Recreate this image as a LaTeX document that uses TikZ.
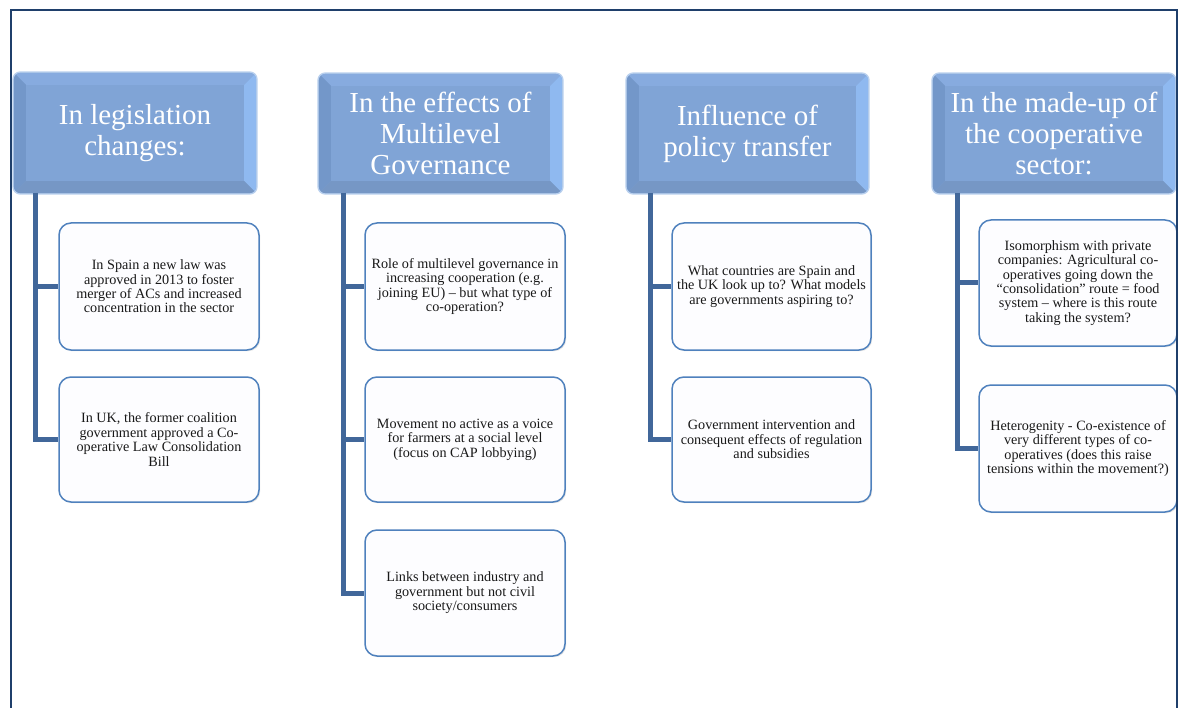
\documentclass[tikz,border=0pt]{standalone}
\usepackage{fontspec}
\setmainfont{Liberation Serif}
\usetikzlibrary{backgrounds,shadows}
\definecolor{hdrbase}{RGB}{128,164,214}
\definecolor{hdrtop}{RGB}{135,171,223}
\definecolor{hdrright}{RGB}{143,185,240}
\definecolor{hdrleft}{RGB}{115,151,201}
\definecolor{hdrbottom}{RGB}{118,151,197}
\definecolor{hdredge}{RGB}{185,208,238}
\definecolor{boxedge}{RGB}{79,129,189}
\definecolor{boxfill}{RGB}{253,253,255}
\definecolor{conncol}{RGB}{65,103,154}
\definecolor{framecol}{RGB}{31,63,107}
\definecolor{txt}{RGB}{25,25,25}
\tikzset{
  hdr/.style={inner sep=0pt, align=center, text=white, font=\fontsize{29}{31}\selectfont},
  leaf/.style={draw=boxedge, line width=1.5pt, fill=boxfill, rounded corners=12pt,
    inner sep=0pt, align=center, text=txt, font=\fontsize{14.2}{14.4}\selectfont,
    drop shadow={shadow xshift=1.2pt, shadow yshift=-1.2pt, opacity=.22}},
  conn/.style={draw=conncol, line width=5pt},
}
\newcommand\hdrbevel[1]{%
  \begin{scope}[on background layer]
    \fill[hdredge, rounded corners=8pt] ([shift={(-1.5pt,-1.5pt)}]#1.south west) rectangle ([shift={(1.5pt,1.5pt)}]#1.north east);
    \fill[hdrbase, rounded corners=7pt] (#1.south west) rectangle (#1.north east);
    \begin{scope}
      \clip[rounded corners=7pt] (#1.south west) rectangle (#1.north east);
      \fill[hdrtop] (#1.north west) -- (#1.north east) -- ([shift={(-12pt,-12pt)}]#1.north east) -- ([shift={(12pt,-12pt)}]#1.north west) -- cycle;
      \fill[hdrright] (#1.north east) -- (#1.south east) -- ([shift={(-12pt,12pt)}]#1.south east) -- ([shift={(-12pt,-12pt)}]#1.north east) -- cycle;
      \fill[hdrleft] (#1.north west) -- (#1.south west) -- ([shift={(12pt,12pt)}]#1.south west) -- ([shift={(12pt,-12pt)}]#1.north west) -- cycle;
      \fill[hdrbottom] (#1.south west) -- (#1.south east) -- ([shift={(-12pt,12pt)}]#1.south east) -- ([shift={(12pt,12pt)}]#1.south west) -- cycle;
    \end{scope}
  \end{scope}}
\begin{document}
\begin{tikzpicture}[x=1pt,y=-1pt]
\useasboundingbox (0,0) rectangle (1182,708);
\begin{scope}[on background layer]
\fill[white] (0,0) rectangle (1182,708);
\end{scope}

% headers
\node[hdr, minimum width=242pt, minimum height=120pt] (h1) at (135,133) {In legislation\\changes:};
\node[hdr, minimum width=243pt, minimum height=119pt] (h2) at (440.5,133.5) {In the effects of\\Multilevel\\Governance};
\node[hdr, minimum width=241pt, minimum height=119pt] (h3) at (747.5,133.5) {Influence of\\policy transfer};
\node[hdr, minimum width=242pt, minimum height=119pt] (h4) at (1054,133.5) {In the made-up of\\the cooperative\\sector:};
\hdrbevel{h1}\hdrbevel{h2}\hdrbevel{h3}\hdrbevel{h4}

% connector tops
\coordinate (t1) at (35,193);
\coordinate (t2) at (343,193);
\coordinate (t3) at (650,193);
\coordinate (t4) at (957,193);

% column 1
\node[leaf, minimum width=200pt, minimum height=127pt] (b11) at (159,286.5)
  {In Spain a new law was\\approved in 2013 to foster\\merger of ACs and increased\\concentration in the sector};
\node[leaf, minimum width=200pt, minimum height=125pt] (b12) at (159,439.5)
  {In UK, the former coalition\\government approved a Co-\\operative Law Consolidation\\Bill};
% column 2
\node[leaf, minimum width=200pt, minimum height=127pt] (b21) at (465,286.5)
  {Role of multilevel governance in\\increasing cooperation (e.g.\\joining EU) – but what type of\\co-operation?};
\node[leaf, minimum width=200pt, minimum height=125pt] (b22) at (465,439.5)
  {Movement no active as a voice\\for farmers at a social level\\(focus on CAP lobbying)};
\node[leaf, minimum width=200pt, minimum height=126pt] (b23) at (465,593)
  {Links between industry and\\government but not civil\\society/consumers};
% column 3
\node[leaf, minimum width=199pt, minimum height=127pt] (b31) at (771.5,286.5)
  {What countries are Spain and\\the UK look up to? What models\\are governments aspiring to?};
\node[leaf, minimum width=199pt, minimum height=125pt] (b32) at (771.5,439.5)
  {Government intervention and\\consequent effects of regulation\\and subsidies};
% column 4
\node[leaf, minimum width=198pt, minimum height=126pt] (b41) at (1078,283)
  {Isomorphism with private\\companies: Agricultural co-\\operatives going down the\\“consolidation” route = food\\system – where is this route\\taking the system?};
\node[leaf, minimum width=198pt, minimum height=127pt] (b42) at (1078,448.5)
  {Heterogenity - Co-existence of\\very different types of co-\\operatives (does this raise\\tensions within the movement?)};

% connectors
\draw[conn] (t1) |- (b12.west);
\draw[conn] (t1) |- (b11.west);
\draw[conn] (t2) |- (b23.west);
\draw[conn] (t2) |- (b22.west);
\draw[conn] (t2) |- (b21.west);
\draw[conn] (t3) |- (b32.west);
\draw[conn] (t3) |- (b31.west);
\draw[conn] (t4) |- (b42.west);
\draw[conn] (t4) |- (b41.west);

% frame
\draw[framecol, line width=2pt] (11,709) -- (11,10) -- (1177,10) -- (1177,709);
\end{tikzpicture}
\end{document}
